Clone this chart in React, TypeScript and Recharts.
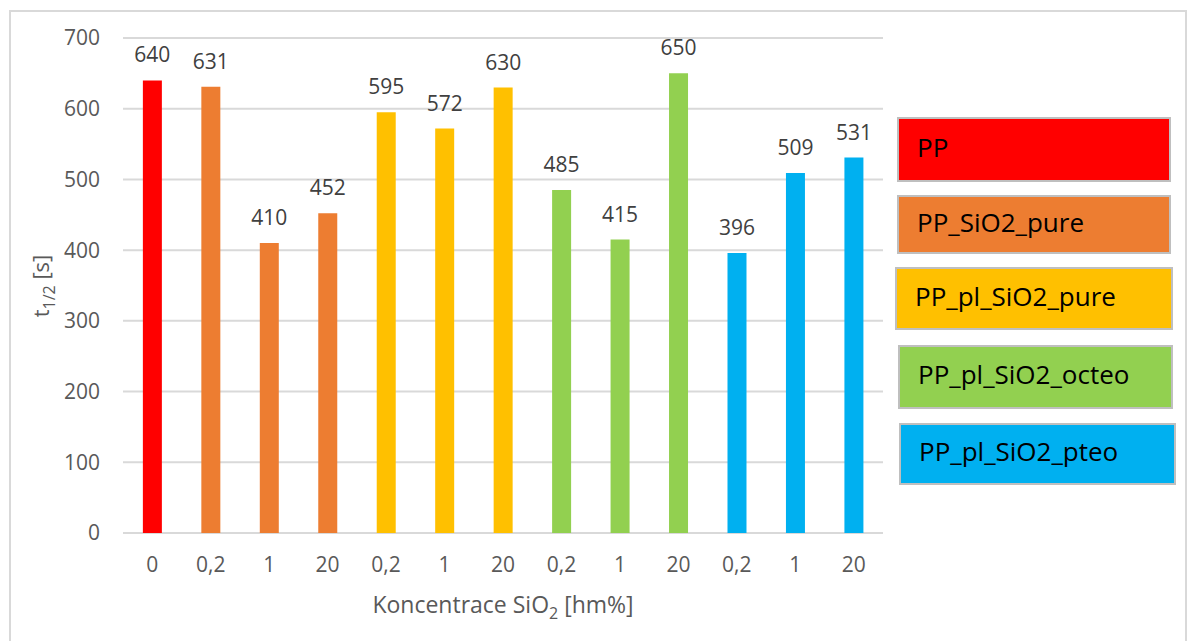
import { BarChart, Bar, XAxis, YAxis, CartesianGrid, Cell, LabelList, Label } from 'recharts';

const categories = ['0', '0,2', '1', '20', '0,2', '1', '20', '0,2', '1', '20', '0,2', '1', '20'];
const values = [640, 631, 410, 452, 595, 572, 630, 485, 415, 650, 396, 509, 531];
const groupOf = [0, 1, 1, 1, 2, 2, 2, 3, 3, 3, 4, 4, 4];
const groupNames = ['PP', 'PP_SiO2_pure', 'PP_pl_SiO2_pure', 'PP_pl_SiO2_octeo', 'PP_pl_SiO2_pteo'];
const groupColors = ['#FF0000', '#ED7D31', '#FFC000', '#92D050', '#00B0F0'];
const yTicks = [0, 100, 200, 300, 400, 500, 600, 700];

const data = categories.map((c, i) => ({ label: c, value: values[i], group: groupOf[i] }));

const FONT = '"Open Sans", sans-serif';

// legend box placement (px, page coords)
const legendBoxes = [
  { left: 897, top: 117, width: 274, height: 65 },
  { left: 897, top: 195, width: 274, height: 59 },
  { left: 895, top: 267, width: 278, height: 63 },
  { left: 898, top: 345, width: 275, height: 64 },
  { left: 899, top: 423, width: 277, height: 62 },
];

const XTitle = (props: any) => {
  const vb = props.viewBox || { x: 0, y: 0, width: 0 };
  return (
    <text x={vb.x + vb.width / 2} y={613} textAnchor="middle" fill="#595959" fontSize={23} fontFamily={FONT}>
      <tspan>Koncentrace SiO</tspan>
      <tspan dy={6} fontSize={16}>2</tspan>
      <tspan dy={-6}> [hm%]</tspan>
    </text>
  );
};

const YTitle = () => (
  <text
    x={0}
    y={0}
    transform="translate(49, 286) rotate(-90)"
    textAnchor="middle"
    fill="#595959"
    fontSize={22}
    fontFamily={FONT}
  >
    <tspan>t</tspan>
    <tspan dy={6} fontSize={16}>1/2</tspan>
    <tspan dy={-6}> [s]</tspan>
  </text>
);

export default function App() {
  return (
    <div style={{ position: 'absolute', left: 0, top: 0, width: 1187, height: 641, background: '#fff', overflow: 'hidden', fontFamily: FONT }}>
      <div
        style={{
          position: 'absolute',
          left: 9,
          top: 10,
          width: 1178,
          height: 680,
          border: '2px solid #d9d9d9',
          boxSizing: 'border-box',
        }}
      />
      <div style={{ position: 'absolute', left: 0, top: 0 }}>
        <BarChart
          width={900}
          height={641}
          data={data}
          margin={{ top: 38, right: 17, bottom: 0, left: 3 }}
          barCategoryGap="34%"
        >
          <CartesianGrid vertical={false} stroke="#d9d9d9" strokeWidth={2} />
          <XAxis
            dataKey="label"
            height={108}
            axisLine={false}
            tickLine={false}
            tickSize={0}
            tickMargin={24}
            interval={0}
            tick={{ fill: '#595959', fontSize: 21, fontFamily: FONT }}
          >
            <Label content={XTitle} />
          </XAxis>
          <YAxis
            width={120}
            domain={[0, 700]}
            ticks={yTicks}
            axisLine={false}
            tickLine={false}
            tickSize={0}
            tickMargin={23}
            tick={{ fill: '#595959', fontSize: 21, fontFamily: FONT }}
          >
            <Label content={YTitle} />
          </YAxis>
          <Bar dataKey="value" isAnimationActive={false}>
            {data.map((d, i) => (
              <Cell key={i} fill={groupColors[d.group]} />
            ))}
            <LabelList dataKey="value" position="top" offset={18} fill="#404040" fontSize={21} fontFamily={FONT} />
          </Bar>
        </BarChart>
      </div>
      {groupNames.map((name, i) => (
        <div
          key={name}
          style={{
            position: 'absolute',
            left: legendBoxes[i].left,
            top: legendBoxes[i].top,
            width: legendBoxes[i].width,
            height: legendBoxes[i].height,
            background: groupColors[i],
            border: '2px solid #bfbfbf',
            boxSizing: 'border-box',
            display: 'flex',
            alignItems: 'center',
            paddingLeft: 18,
            paddingBottom: 6,
            fontSize: 26,
            color: '#000',
          }}
        >
          {name}
        </div>
      ))}
    </div>
  );
}
